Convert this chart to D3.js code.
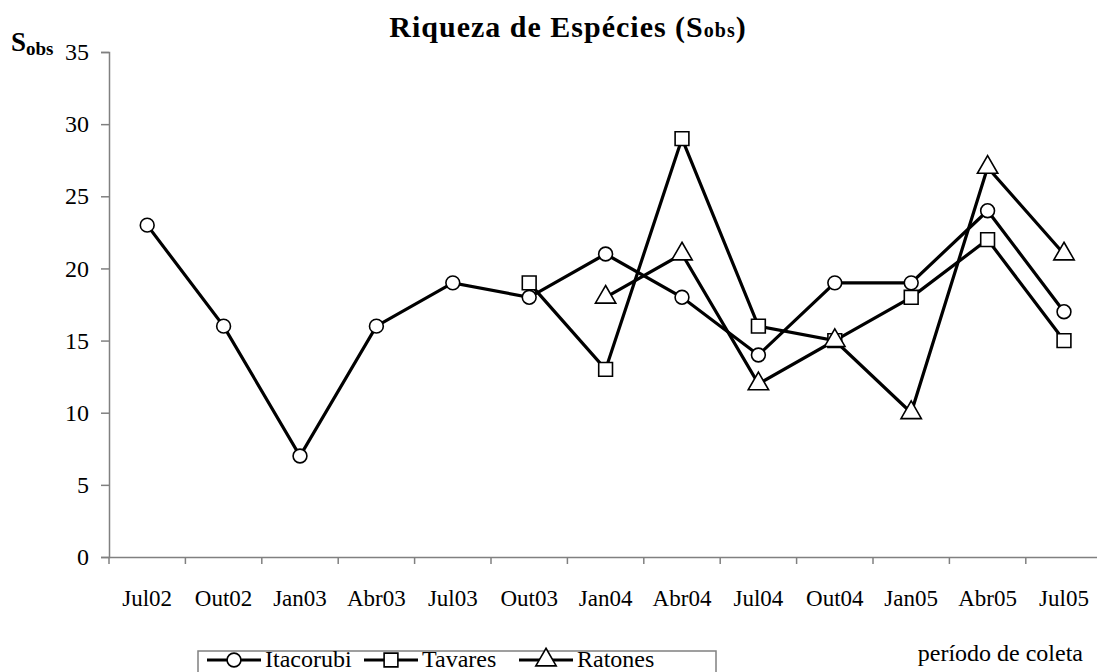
<!DOCTYPE html>
<html>
<head>
<meta charset="utf-8">
<script src="https://cdn.jsdelivr.net/npm/d3@7"></script>
<style>
  html, body { margin: 0; padding: 0; background: #fff; }
  svg { display: block; }
  text { font-family: "Liberation Serif", "Times New Roman", serif; fill: #000; }
</style>
</head>
<body>
<svg id="chart" width="1097" height="672"></svg>
<script>
const categories = ["Jul02","Out02","Jan03","Abr03","Jul03","Out03","Jan04","Abr04","Jul04","Out04","Jan05","Abr05","Jul05"];
const itacorubi = [23,16,7,16,19,18,21,18,14,19,19,24,17];
const tavares   = [null,null,null,null,null,19,13,29,16,15,18,22,15];
const ratones   = [null,null,null,null,null,null,18,21,12,15,10,27,21];
const yTicks = [0,5,10,15,20,25,30,35];
const seriesNames = ["Itacorubi","Tavares","Ratones"];
const seriesSymbols = ["circle","square","triangle"];

const svg = d3.select("#chart");
const plotLeft = 109, plotBottom = 557, plotTop = 52, band = 76.4;
const x = d3.scaleBand().domain(categories).range([plotLeft, plotLeft + band * categories.length]).padding(0);
const y = d3.scaleLinear().domain([0, 35]).range([plotBottom, plotTop]);
const grey = "#808080";

// Y axis
const yAxis = d3.axisLeft(y).tickValues(yTicks).tickSize(8).tickPadding(12);
const gy = svg.append("g").attr("transform", `translate(${plotLeft},0)`).call(yAxis);
gy.select(".domain").attr("stroke", grey).attr("stroke-width", 1.5);
gy.selectAll(".tick line").attr("stroke", grey).attr("stroke-width", 1.5);
gy.selectAll(".tick text").attr("font-size", 24).attr("font-family", "Liberation Serif").attr("fill", "#000");

// X axis (labels at centres, ticks at band boundaries)
const xAxis = d3.axisBottom(x).tickSize(0).tickPadding(33);
const gx = svg.append("g").attr("transform", `translate(0,${plotBottom})`).call(xAxis);
gx.select(".domain").attr("stroke", grey).attr("stroke-width", 1.5);
gx.selectAll(".tick text").attr("font-size", 23).attr("font-family", "Liberation Serif").attr("fill", "#000");
gx.selectAll(".boundary").data(categories).enter().append("line")
  .attr("x1", d => x(d)).attr("x2", d => x(d))
  .attr("y1", 0).attr("y2", 7)
  .attr("stroke", grey).attr("stroke-width", 1.5);

// Series
const allSeries = [itacorubi, tavares, ratones];
const line = d3.line()
  .defined(d => d.v != null)
  .x(d => x(d.c) + x.bandwidth() / 2)
  .y(d => y(d.v));

const symGen = {
  circle: d3.symbol().type(d3.symbolCircle).size(150),
  square: d3.symbol().type(d3.symbolSquare).size(190),
  triangle: d3.symbol().type(d3.symbolTriangle).size(180)
};

allSeries.forEach((vals, i) => {
  const data = categories.map((c, j) => ({ c, v: vals[j] }));
  svg.append("path").datum(data)
    .attr("fill", "none").attr("stroke", "#000").attr("stroke-width", 3.2)
    .attr("stroke-linejoin", "miter")
    .attr("d", line);
});
allSeries.forEach((vals, i) => {
  const data = categories.map((c, j) => ({ c, v: vals[j] })).filter(d => d.v != null);
  svg.selectAll(null).data(data).enter().append("path")
    .attr("transform", d => `translate(${x(d.c) + x.bandwidth() / 2},${y(d.v)})`)
    .attr("d", symGen[seriesSymbols[i]]())
    .attr("fill", "#fff").attr("stroke", "#000").attr("stroke-width", 1.6);
});

// Title
const title = svg.append("text").attr("x", 568).attr("y", 37)
  .attr("text-anchor", "middle").attr("font-weight", "bold").attr("font-size", 30)
  .attr("letter-spacing", 1);
title.append("tspan").text("Riqueza de Espécies (S");
title.append("tspan").attr("font-size", 20).text("obs");
title.append("tspan").text(")");

// Y label
const ylab = svg.append("text").attr("x", 11).attr("y", 51).attr("font-weight", "bold").attr("font-size", 27);
ylab.append("tspan").text("S");
ylab.append("tspan").attr("font-size", 19).attr("dy", 4).text("obs");

// X axis title
svg.append("text").attr("x", 1083).attr("y", 661).attr("text-anchor", "end")
  .attr("font-size", 24).text("período de coleta");

// Legend
const lg = svg.append("g");
lg.append("rect").attr("x", 198).attr("y", 651).attr("width", 518).attr("height", 30)
  .attr("fill", "#fff").attr("stroke", grey).attr("stroke-width", 1.5);
const legendItems = [
  { name: seriesNames[0], sym: seriesSymbols[0], x0: 207 },
  { name: seriesNames[1], sym: seriesSymbols[1], x0: 364 },
  { name: seriesNames[2], sym: seriesSymbols[2], x0: 519 }
];
const ly = 660;
legendItems.forEach(it => {
  lg.append("line").attr("x1", it.x0).attr("x2", it.x0 + 54).attr("y1", ly).attr("y2", ly)
    .attr("stroke", "#000").attr("stroke-width", 3.2);
  lg.append("path").attr("transform", `translate(${it.x0 + 27},${ly})`)
    .attr("d", symGen[it.sym]())
    .attr("fill", "#fff").attr("stroke", "#000").attr("stroke-width", 1.6);
  lg.append("text").attr("x", it.x0 + 58).attr("y", ly + 7).attr("font-size", 24).text(it.name);
});
</script>
</body>
</html>
